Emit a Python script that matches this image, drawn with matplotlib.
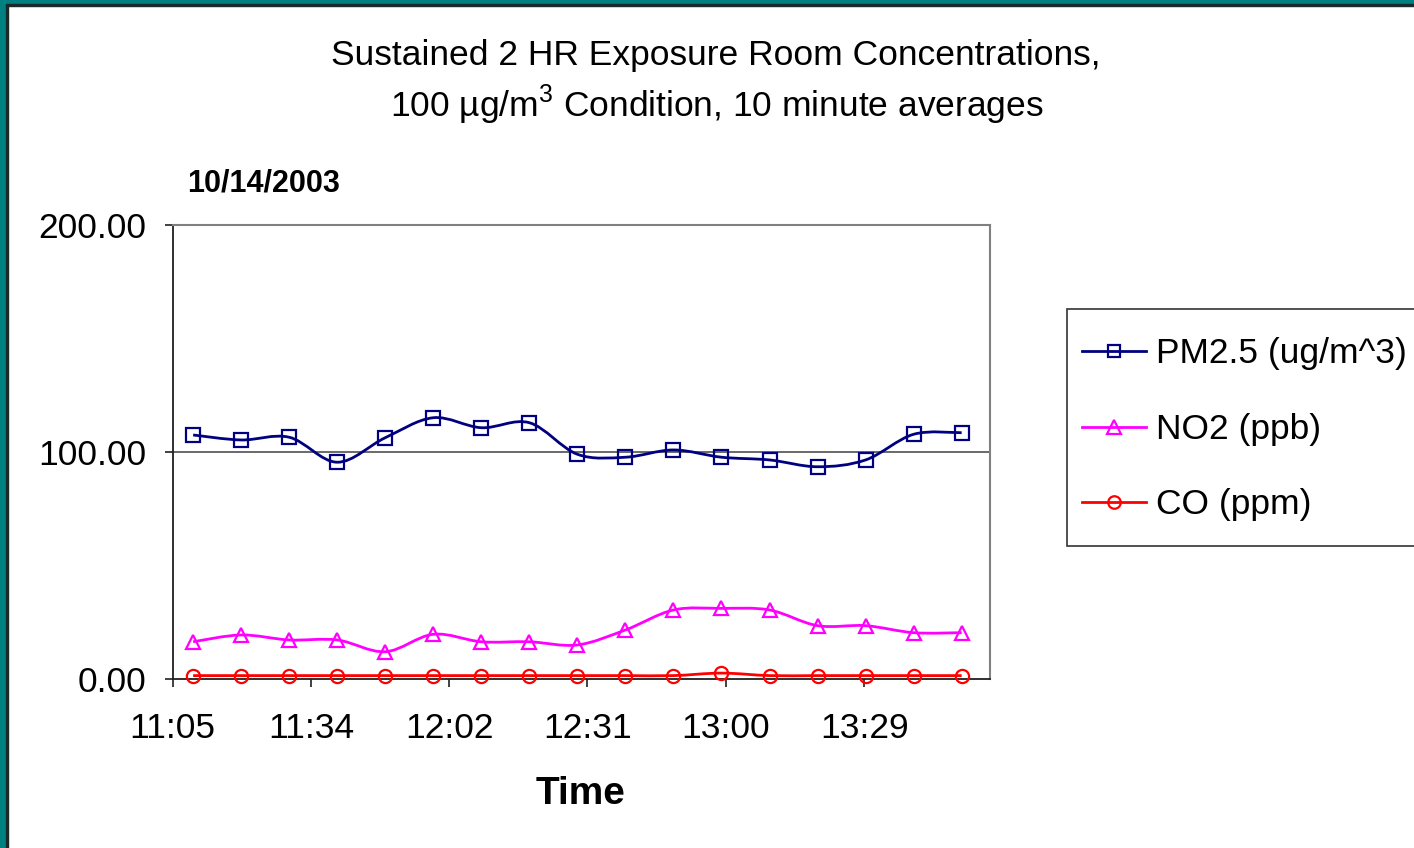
import matplotlib
matplotlib.use("Agg")
import numpy as np
import matplotlib.pyplot as plt
from matplotlib.path import Path
from matplotlib.patches import PathPatch, Rectangle
from matplotlib.lines import Line2D
from matplotlib.legend_handler import HandlerLine2D

# ---------------- data ----------------
times = ["11:09:36", "11:19:36", "11:29:36", "11:39:36", "11:49:36", "11:59:36",
         "12:09:36", "12:19:36", "12:29:36", "12:39:36", "12:49:36", "12:59:36",
         "13:09:36", "13:19:36", "13:29:36", "13:39:36", "13:49:36"]
pm25 = [107.5, 105.3, 106.5, 95.5, 106.3, 115.1, 110.7, 112.9, 99.0, 97.7,
        100.9, 97.7, 96.5, 93.5, 96.5, 107.8, 108.5]
no2 = [16.4, 19.4, 17.2, 17.2, 12.0, 19.7, 16.4, 16.4, 15.0, 21.6,
       30.4, 31.1, 30.4, 23.5, 23.5, 20.4, 20.4]
co = [1.5, 1.5, 1.5, 1.5, 1.5, 1.5, 1.5, 1.5, 1.5, 1.5,
      1.5, 2.6, 1.5, 1.5, 1.5, 1.5, 1.5]
series_names = ["PM2.5 (ug/m^3)", "NO2 (ppb)", "CO (ppm)"]
x_tick_labels = ["11:05", "11:34", "12:02", "12:31", "13:00", "13:29"]
y_ticks = [0, 100, 200]
x_min_label = "11:05:18"
x_max_label = "13:55:24"
major_unit_min = 28.8

def to_min(s):
    p = [int(v) for v in s.split(":")]
    return p[0] * 60 + p[1] + (p[2] / 60 if len(p) > 2 else 0)

tx = [to_min(t) for t in times]
xmin, xmax = to_min(x_min_label), to_min(x_max_label)

plt.rcParams['font.family'] = ['Liberation Sans', 'DejaVu Sans']
plt.rcParams['mathtext.fontset'] = 'custom'
plt.rcParams['mathtext.rm'] = 'Liberation Sans'

W, H = 1414, 848
fig = plt.figure(figsize=(W / 100, H / 100), dpi=100)
fig.patch.set_facecolor('white')

# teal frame (left and top)
teal = '#008080'
fig.patches.append(Rectangle((0, 0), 6 / W, 1, transform=fig.transFigure, color=teal, zorder=0))
fig.patches.append(Rectangle((6 / W, 0), 1.5 / W, 1 - 5 / H, transform=fig.transFigure, color='#1a2a2a', zorder=0))
fig.patches.append(Rectangle((0, 1 - 4 / H), 1, 4 / H, transform=fig.transFigure, color=teal, zorder=0))
fig.patches.append(Rectangle((6 / W, 1 - 6 / H), 1, 2 / H, transform=fig.transFigure, color='#1a2a2a', zorder=0))

L, R, T, B = 172.5, 989.5, 225, 679
ax = fig.add_axes([L / W, 1 - B / H, (R - L) / W, (B - T) / H])
ax.set_xlim(xmin, xmax)
ax.set_ylim(0, 200)

FS = 25.5

def smooth_path(x, y):
    n = len(x)
    verts = [(x[0], y[0])]
    codes = [Path.MOVETO]
    for i in range(n - 1):
        xp, yp = (x[i - 1], y[i - 1]) if i > 0 else (x[i], y[i])
        xn, yn = (x[i + 2], y[i + 2]) if i + 2 < n else (x[i + 1], y[i + 1])
        c1 = (x[i] + (x[i + 1] - xp) / 6, y[i] + (y[i + 1] - yp) / 6)
        c2 = (x[i + 1] - (xn - x[i]) / 6, y[i + 1] - (yn - y[i]) / 6)
        verts += [c1, c2, (x[i + 1], y[i + 1])]
        codes += [Path.CURVE4] * 3
    return Path(verts, codes)


class ShiftedLineHandler(HandlerLine2D):
    def __init__(self, shift=0.0, **kw):
        super().__init__(**kw)
        self._shift = shift

    def create_artists(self, legend, orig_handle, xdescent, ydescent, width,
                       height, fontsize, trans):
        arts = super().create_artists(legend, orig_handle, xdescent, ydescent,
                                      width, height, fontsize, trans)
        for a in arts:
            a.set_ydata(np.asarray(a.get_ydata(), dtype=float) - self._shift)
        return arts


styles = [
    dict(color='#000080', marker='s', ms=9.5),
    dict(color='#FF00FF', marker='^', ms=10.5),
    dict(color='#FF0000', marker='o', ms=9.5),
]
handles = []
for vals, st, name in zip([pm25, no2, co], styles, series_names):
    ax.add_patch(PathPatch(smooth_path(tx, vals), fill=False, edgecolor=st['color'],
                           lw=2.0, zorder=3, clip_on=False))
    ax.plot(tx, vals, linestyle='none', marker=st['marker'], ms=st['ms'],
            mfc='none', mec=st['color'], mew=1.6, zorder=4, clip_on=False)
    handles.append(Line2D([], [], color=st['color'], lw=2.0, marker=st['marker'],
                          ms=st['ms'] * 0.95, mfc='none', mec=st['color'], mew=1.6, label=name))

# gridline
ax.axhline(100, color='#505050', lw=1.2, zorder=1)

# spines
for s in ['top', 'right']:
    ax.spines[s].set_color('#808080')
    ax.spines[s].set_linewidth(1.5)
for s in ['left', 'bottom']:
    ax.spines[s].set_color('#202020')
    ax.spines[s].set_linewidth(1.3)

ax.set_yticks(y_ticks)
ax.set_yticklabels([f"{v:.2f}" for v in y_ticks], fontsize=FS)
ax.set_xticks([xmin + major_unit_min * k for k in range(len(x_tick_labels))])
ax.set_xticklabels(x_tick_labels, fontsize=FS)
ax.tick_params(axis='y', direction='out', length=6, width=1.2, color='#202020', pad=13)
ax.tick_params(axis='x', direction='out', length=6, width=1.2, color='#202020', pad=18)

ax.set_xlabel("Time", fontsize=28, fontweight='bold', labelpad=22)

fig.text(187 / W, 1 - 184 / H, "10/14/2003", fontsize=22, fontweight='bold',
         ha='left', va='center')
fig.text(716 / W, 1 - 55 / H, "Sustained 2 HR Exposure Room Concentrations,",
         fontsize=FS, ha='center', va='center')
fig.text(717 / W, 1 - 105 / H, r"100 µg/m$^{3}$ Condition, 10 minute averages",
         fontsize=FS, ha='center', va='center')

leg = fig.legend(handles=handles, loc='upper left',
                 bbox_to_anchor=(1067 / W, 1 - 309 / H), fontsize=FS,
                 frameon=True, fancybox=False, edgecolor='black',
                 handlelength=1.8, handleheight=2.06, handletextpad=0.3,
                 labelspacing=0.55, borderpad=0.42, borderaxespad=0,
                 handler_map={Line2D: ShiftedLineHandler(shift=5.5)})
leg.get_frame().set_linewidth(1.2)

fig.savefig("out.png", dpi=100, facecolor='white')
